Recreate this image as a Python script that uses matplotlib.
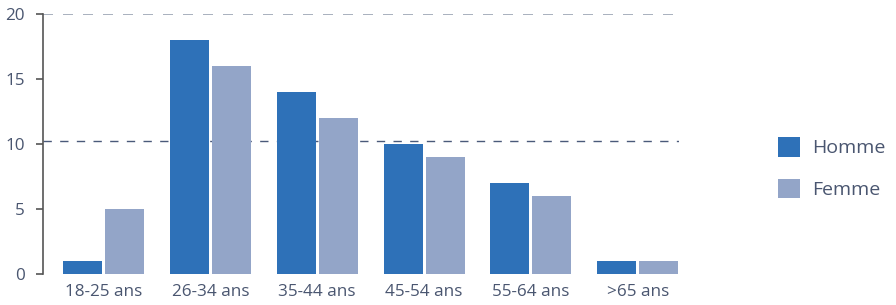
import matplotlib
matplotlib.use("Agg")
import matplotlib.pyplot as plt
import numpy as np

categories = ["18-25 ans", "26-34 ans", "35-44 ans", "45-54 ans", "55-64 ans", ">65 ans"]
homme = [1, 18, 14, 10, 7, 1]
femme = [5, 16, 12, 9, 6, 1]
yticks = [0, 5, 10, 15, 20]

plt.rcParams['font.family'] = ['Open Sans', 'DejaVu Sans']
txt = '#4a5670'
c_h = '#2e71b8'
c_f = '#93a5c8'

fig = plt.figure(figsize=(8.96, 3.05), dpi=100)
ax = fig.add_axes([43/896, 31/305, (679-43)/896, 260/305])

x = np.arange(len(categories))
w = 0.365
g = 0.014
ax.bar(x - g - w/2, homme, width=w, color=c_h, label='Homme', zorder=3)
ax.bar(x + g + w/2, femme, width=w, color=c_f, label='Femme', zorder=3)

ax.set_xlim(-0.566, 5.385)
ax.set_ylim(0, 20)
ax.set_yticks(yticks)
ax.set_xticks(x)
ax.set_xticklabels(categories)
ax.tick_params(axis='x', length=0, pad=7, labelsize=12.3, labelcolor=txt)
ax.tick_params(axis='y', length=5, width=1.2, color='#555555', pad=8, labelsize=12.3, labelcolor=txt)

for s in ['top', 'right', 'bottom']:
    ax.spines[s].set_visible(False)
ax.spines['left'].set_color('#555555')
ax.spines['left'].set_linewidth(1.2)

ax.axhline(20, color='#9aa3b3', linestyle=(0, (6, 6)), linewidth=1.2, zorder=1)
ax.axhline(10.2, color='#4a5a7a', linestyle=(0, (6, 6)), linewidth=1.0, zorder=1)

leg = fig.legend(loc='center left', bbox_to_anchor=(760/896, 1 - 168/305), frameon=False,
                 handlelength=1.17, handleheight=1.17, labelspacing=1.1, handletextpad=0.6,
                 fontsize=14)
for t in leg.get_texts():
    t.set_color(txt)

fig.savefig('out.png', dpi=100)
